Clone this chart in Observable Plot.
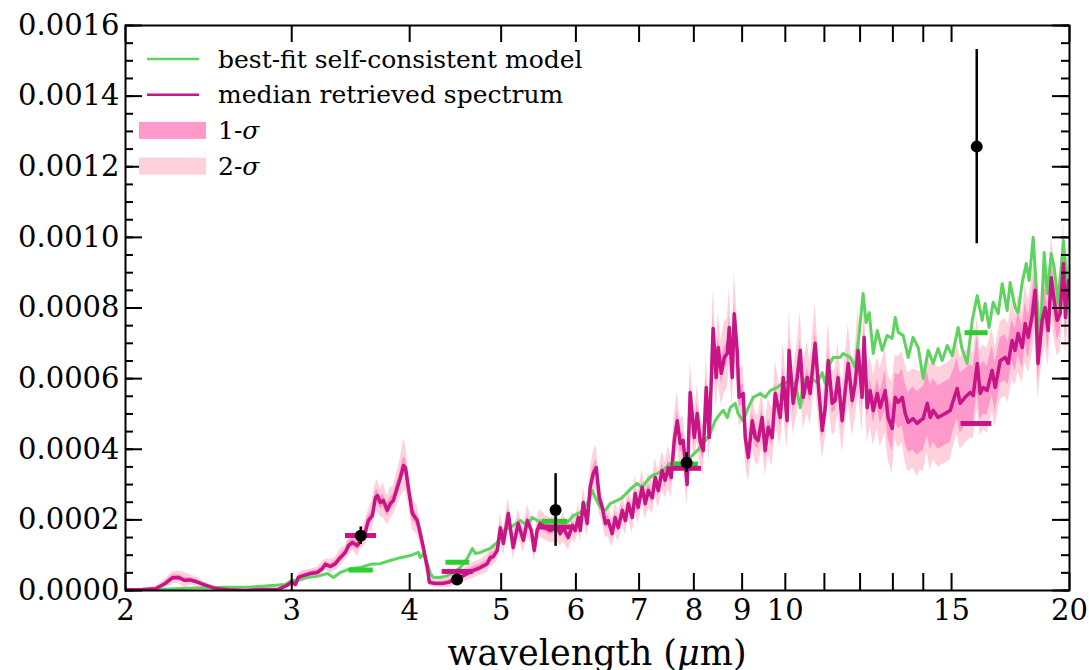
<!DOCTYPE html>
<html><head><meta charset="utf-8">
<script src="https://cdn.jsdelivr.net/npm/d3@7"></script>
<script src="https://cdn.jsdelivr.net/npm/@observablehq/plot@0.6"></script>
<style>body{margin:0;background:#fff}#chart{width:1089px;height:670px}</style>
</head><body><div id="chart"></div>
<script>
// values in units of 1e-4
const SCALE = 1e-4;
// median retrieved spectrum: [wavelength (um), value, 1-sigma half width, 2-sigma half width]
const medianSpectrum = [
[2.000,0.02,0.02,0.04],[2.074,0.02,0.02,0.04],[2.152,0.05,0.03,0.06],[2.204,0.20,0.06,0.12],[2.242,0.36,0.08,0.16],
[2.276,0.37,0.08,0.18],[2.309,0.29,0.07,0.22],[2.342,0.30,0.07,0.15],[2.383,0.24,0.06,0.12],[2.430,0.15,0.04,0.08],
[2.490,0.06,0.03,0.05],[2.571,0.02,0.02,0.04],[2.680,0.00,0.02,0.03],[2.792,0.03,0.02,0.03],[2.904,0.03,0.02,0.04],
[2.969,0.15,0.04,0.07],[3.000,0.24,0.05,0.08],[3.027,0.17,0.05,0.09],[3.049,0.37,0.06,0.12],[3.086,0.42,0.06,0.15],
[3.139,0.48,0.07,0.12],[3.193,0.51,0.07,0.15],[3.233,0.62,0.08,0.18],[3.257,0.74,0.08,0.15],[3.297,0.68,0.08,0.20],
[3.337,0.76,0.09,0.18],[3.377,0.93,0.10,0.25],[3.420,1.08,0.10,0.20],[3.445,1.27,0.12,0.30],[3.479,1.36,0.12,0.22],
[3.521,1.27,0.12,0.30],[3.547,1.42,0.12,0.25],[3.589,1.64,0.14,0.35],[3.616,1.98,0.15,0.30],[3.652,2.12,0.16,0.45],
[3.679,2.63,0.18,0.40],[3.697,2.69,0.18,0.45],[3.724,2.49,0.18,0.40],[3.751,2.55,0.18,0.50],[3.787,2.27,0.18,0.40],
[3.815,2.46,0.18,0.45],[3.844,2.55,0.18,0.40],[3.882,2.92,0.20,0.50],[3.911,3.20,0.22,0.55],[3.940,3.54,0.25,0.75],
[3.959,3.48,0.25,0.65],[3.987,2.92,0.22,0.50],[4.026,2.18,0.20,0.45],[4.075,1.98,0.18,0.40],[4.105,1.61,0.15,0.35],
[4.136,1.22,0.12,0.30],[4.176,0.65,0.10,0.22],[4.197,0.23,0.06,0.12],[4.257,0.20,0.05,0.10],[4.332,0.20,0.06,0.12],
[4.396,0.23,0.07,0.15],[4.461,0.31,0.08,0.18],[4.526,0.37,0.08,0.18],[4.603,0.48,0.09,0.20],[4.672,0.57,0.10,0.22],
[4.752,0.65,0.10,0.22],[4.833,0.76,0.11,0.25],[4.868,0.93,0.12,0.25],[4.905,0.96,0.12,0.25],[4.953,1.13,0.12,0.30],
[4.990,1.78,0.14,0.40],[5.027,1.33,0.12,0.35],[5.088,2.18,0.15,0.45],[5.149,1.22,0.12,0.35],[5.213,1.90,0.14,0.40],
[5.278,1.42,0.12,0.35],[5.330,1.98,0.14,0.45],[5.382,1.70,0.12,0.35],[5.421,1.13,0.12,0.30],[5.458,1.70,0.12,0.35],
[5.499,1.90,0.13,0.40],[5.568,1.78,0.13,0.35],[5.637,1.70,0.12,0.35],[5.733,1.78,0.13,0.40],[5.775,1.61,0.12,0.35],
[5.816,1.78,0.13,0.40],[5.890,1.50,0.12,0.35],[5.948,1.84,0.13,0.40],[5.992,1.70,0.12,0.35],[6.036,2.07,0.14,0.40],
[6.065,1.70,0.12,0.35],[6.109,2.49,0.15,0.45],[6.168,1.90,0.14,0.40],[6.212,2.92,0.18,0.50],[6.259,3.31,0.20,0.60],
[6.306,3.48,0.22,0.65],[6.352,2.63,0.18,0.45],[6.399,2.35,0.16,0.40],[6.446,1.90,0.15,0.40],[6.492,1.98,0.15,0.45],
[6.555,1.61,0.14,0.40],[6.604,2.07,0.15,0.45],[6.653,1.78,0.14,0.40],[6.719,2.27,0.16,0.45],[6.769,1.98,0.15,0.40],
[6.819,2.46,0.16,0.45],[6.885,2.07,0.15,0.45],[6.934,2.75,0.17,0.50],[6.983,2.35,0.16,0.45],[7.053,2.92,0.18,0.50],
[7.106,2.46,0.16,0.45],[7.159,2.83,0.18,0.50],[7.229,2.63,0.17,0.45],[7.282,3.20,0.20,0.55],[7.335,2.83,0.18,0.50],
[7.405,3.40,0.20,0.55],[7.459,3.12,0.20,0.50],[7.515,3.48,0.22,0.60],[7.571,3.20,0.20,0.55],[7.627,4.25,0.25,0.70],
[7.683,4.81,0.28,0.80],[7.739,4.16,0.25,0.70],[7.795,4.25,0.25,0.70],[7.870,3.00,0.22,0.60],[7.929,5.61,0.30,0.90],
[8.008,4.33,0.26,0.70],[8.067,5.01,0.28,0.80],[8.127,4.20,0.26,0.70],[8.187,3.96,0.25,0.70],[8.246,5.75,0.30,0.90],
[8.306,4.33,0.26,0.70],[8.385,7.42,0.35,1.10],[8.448,6.03,0.30,0.90],[8.490,6.88,0.32,1.00],[8.554,6.15,0.30,0.90],
[8.617,6.60,0.32,1.00],[8.680,6.71,0.32,1.00],[8.722,7.45,0.35,1.10],[8.786,6.03,0.30,0.90],[8.828,7.84,0.36,1.20],
[8.891,6.80,0.32,1.00],[8.934,5.47,0.28,0.80],[9.024,5.58,0.28,0.80],[9.069,4.33,0.25,0.70],[9.136,3.77,0.24,0.70],
[9.226,4.81,0.26,0.80],[9.293,4.33,0.25,0.70],[9.360,4.25,0.25,0.70],[9.450,4.90,0.27,0.80],[9.520,3.96,0.25,0.70],
[9.591,4.62,0.26,0.80],[9.686,4.33,0.25,0.80],[9.758,5.58,0.28,0.90],[9.877,4.90,0.27,0.80],[9.949,6.03,0.30,1.00],
[10.044,4.81,0.27,0.80],[10.092,6.80,0.32,1.10],[10.194,5.30,0.28,0.90],[10.295,6.03,0.30,1.00],[10.371,6.80,0.32,1.10],
[10.447,5.47,0.28,0.90],[10.548,6.03,0.30,1.00],[10.624,5.58,0.28,0.90],[10.754,7.00,0.33,1.10],[10.835,5.86,0.30,1.00],
[10.942,4.53,0.26,0.80],[11.023,5.18,0.28,0.90],[11.104,6.51,0.32,1.10],[11.211,5.30,0.28,0.90],[11.292,5.38,0.28,0.90],
[11.373,6.03,0.30,1.00],[11.487,4.81,0.27,0.90],[11.573,5.66,0.30,1.00],[11.659,6.43,0.32,1.10],[11.773,5.38,0.30,1.00],
[11.859,5.86,0.32,1.00],[11.945,6.80,0.35,1.20],[12.059,5.47,0.32,1.00],[12.119,7.17,0.36,1.20],[12.210,5.18,0.32,1.00],
[12.301,5.66,0.35,1.00],[12.392,5.10,0.35,1.00],[12.514,5.58,0.40,1.00],[12.605,5.18,0.45,1.10],[12.757,5.66,0.55,1.20],
[12.848,4.90,0.60,1.20],[12.977,4.59,0.65,1.30],[13.074,5.47,0.70,1.20],[13.171,5.33,0.75,1.30],[13.301,5.47,0.80,1.30],
[13.398,5.01,0.85,1.40],[13.495,4.76,0.85,1.40],[13.656,4.87,0.90,1.40],[13.793,4.73,0.90,1.50],[13.896,4.81,0.90,1.40],
[13.999,4.87,0.90,1.50],[14.137,5.30,0.90,1.40],[14.240,4.90,0.90,1.50],[14.343,5.10,0.90,1.40],[14.514,4.90,0.90,1.40],
[14.769,5.01,0.90,1.40],[14.952,5.10,0.90,1.40],[15.062,5.38,0.85,1.30],[15.208,5.72,0.85,1.30],[15.317,5.30,0.85,1.30],
[15.504,5.47,0.80,1.30],[15.698,5.61,0.80,1.30],[15.814,5.52,0.80,1.20],[15.970,6.43,0.80,1.30],[16.086,5.58,0.75,1.20],
[16.203,5.75,0.75,1.20],[16.358,5.66,0.70,1.20],[16.561,6.23,0.70,1.20],[16.685,5.75,0.70,1.10],[16.891,6.51,0.65,1.10],
[17.097,6.60,0.65,1.10],[17.221,6.43,0.60,1.10],[17.386,7.08,0.60,1.10],[17.515,6.80,0.60,1.00],[17.646,7.28,0.60,1.10],
[17.821,6.88,0.60,1.00],[17.953,7.56,0.60,1.10],[18.085,7.17,0.60,1.00],[18.260,7.79,0.60,1.10],[18.391,8.50,0.60,1.20],
[18.522,6.43,0.55,1.00],[18.708,7.65,0.55,1.10],[18.848,8.01,0.55,1.10],[18.988,7.36,0.55,1.00],[19.128,8.86,0.55,1.20],
[19.267,8.21,0.55,1.10],[19.407,7.65,0.55,1.00],[19.547,7.84,0.55,1.10],[19.707,9.26,0.55,1.20],[19.805,7.73,0.55,1.10],
[19.951,8.78,0.55,1.10]
];
// best-fit self-consistent model: [wavelength (um), value]
const fitSpectrum = [
[2.000,0.02],[2.126,0.03],[2.259,0.05],[2.401,0.08],[2.552,0.09],[2.713,0.10],[2.792,0.12],[2.883,0.15],[2.953,0.17],[3.000,0.28],
[3.042,0.28],[3.086,0.33],[3.116,0.37],[3.193,0.40],[3.273,0.48],[3.321,0.37],[3.377,0.51],[3.462,0.62],[3.547,0.65],[3.634,0.74],
[3.724,0.76],[3.815,0.85],[3.911,0.93],[4.007,0.99],[4.085,1.08],[4.105,0.93],[4.136,1.05],[4.176,0.76],[4.207,0.48],[4.237,0.37],
[4.310,0.37],[4.386,0.42],[4.450,0.51],[4.526,0.65],[4.603,0.91],[4.661,1.19],[4.695,1.05],[4.752,1.08],[4.868,1.19],[4.953,1.36],
[5.027,1.70],[5.112,1.78],[5.239,1.98],[5.330,1.84],[5.395,2.07],[5.499,1.93],[5.610,1.98],[5.733,1.93],[5.875,1.93],[5.963,2.12],
[6.065,2.21],[6.168,2.46],[6.244,2.83],[6.290,2.63],[6.368,2.35],[6.446,2.27],[6.524,2.46],[6.637,2.55],[6.719,2.63],[6.802,2.78],
[6.885,2.92],[6.966,3.03],[7.053,2.92],[7.141,3.12],[7.229,3.26],[7.317,3.31],[7.422,3.40],[7.553,3.60],[7.683,3.62],[7.795,3.54],
[7.929,3.77],[8.067,3.96],[8.187,4.16],[8.325,4.45],[8.427,4.81],[8.533,5.01],[8.596,5.10],[8.680,4.90],[8.743,5.18],[8.849,5.30],
[8.912,5.01],[9.024,4.81],[9.136,5.18],[9.248,5.47],[9.405,5.58],[9.520,5.47],[9.639,5.66],[9.806,5.75],[9.949,5.89],[10.118,5.89],
[10.244,5.86],[10.371,5.18],[10.447,5.95],[10.624,6.03],[10.808,5.89],[10.942,6.17],[11.023,5.86],[11.104,6.32],[11.238,6.60],[11.430,6.60],
[11.516,6.71],[11.716,6.60],[11.859,6.32],[11.974,7.28],[12.088,8.41],[12.179,7.59],[12.271,7.87],[12.392,6.71],[12.514,7.36],[12.666,6.80],
[12.818,7.22],[12.977,7.14],[13.074,7.73],[13.171,7.31],[13.333,7.22],[13.495,6.60],[13.656,7.17],[13.828,6.88],[13.999,6.00],[14.171,6.80],
[14.343,6.43],[14.514,6.85],[14.660,6.51],[14.842,6.94],[15.025,6.65],[15.244,7.45],[15.387,6.85],[15.581,6.43],[15.776,7.65],[15.970,8.35],
[16.164,7.65],[16.280,8.13],[16.437,7.45],[16.602,8.16],[16.809,7.84],[16.973,8.69],[17.180,7.93],[17.303,8.72],[17.515,8.01],[17.646,7.87],
[17.821,8.72],[17.997,9.26],[18.128,8.78],[18.304,10.00],[18.475,8.30],[18.615,6.88],[18.801,9.57],[18.941,8.41],[19.128,9.54],[19.267,9.15],
[19.454,8.13],[19.707,9.91],[19.902,8.58]
];
// observed eclipse depths
const obsWave = [3.55, 4.49, 5.71, 7.86, 15.95];
const obsValue = [1.55, 0.31, 2.28, 3.62, 12.57];
const obsError = [0.25, 0.15, 1.03, 0.28, 2.75];
// band-integrated models
const medBandLo = [3.42, 4.33, 5.49, 7.56, 15.35];
const medBandHi = [3.69, 4.67, 5.93, 8.15, 16.55];
const medBandValue = [1.56, 0.54, 1.80, 3.46, 4.73];
const fitBandLo = [3.45, 4.37, 5.53, 7.61, 15.50];
const fitBandHi = [3.66, 4.63, 5.88, 8.09, 16.40];
const fitBandValue = [0.58, 0.80, 1.96, 3.58, 7.30];
// ticks
const xTickValues = [2,3,4,5,6,7,8,9,10,11,12,13,14,15,20];
const xTickLabels = [2,3,4,5,6,7,8,9,10,15,20];
const yMajorTicks = [0,0.0002,0.0004,0.0006,0.0008,0.0010,0.0012,0.0014,0.0016];
const yMinorTicks = d3.range(0, 33).map(i => i * 0.00005);

const med = medianSpectrum.map(([w, v, s1, s2]) => ({w, v: v*SCALE, lo1: (v-s1)*SCALE, hi1: (v+s1)*SCALE, lo2: (v-s2)*SCALE, hi2: (v+s2)*SCALE}));
const fit = fitSpectrum.map(([w, v]) => ({w, v: v*SCALE}));
const obs = obsWave.map((w, i) => ({w, v: obsValue[i]*SCALE, lo: (obsValue[i]-obsError[i])*SCALE, hi: (obsValue[i]+obsError[i])*SCALE}));
const medBars = medBandLo.map((lo, i) => ({lo, hi: medBandHi[i], v: medBandValue[i]*SCALE}));
const fitBars = fitBandLo.map((lo, i) => ({lo, hi: fitBandHi[i], v: fitBandValue[i]*SCALE}));

const GREEN = "#5fd35f", GREEN_BAR = "#2ecc2e", MAGENTA = "#c71585", SIG1 = "#ff99cc", SIG2 = "#ffd1dc";
const W = 1089, H = 670, ML = 125, MR = 20, MT = 25, MB = 80;
const IW = W - ML - MR, IH = H - MT - MB;
const MAJOR = 17, MINOR = 8;
const tickStyle = {stroke: "#000", strokeWidth: 2};

const chart = Plot.plot({
  width: W, height: H,
  marginTop: MT, marginRight: MR, marginBottom: MB, marginLeft: ML,
  x: {type: "log", domain: [2, 20]},
  y: {domain: [0, 0.0016]},
  style: {fontFamily: "'DejaVu Serif', serif", fontSize: "29px", color: "#000", background: "#fff"},
  marks: [
    Plot.areaY(med, {x: "w", y1: "lo2", y2: "hi2", fill: SIG2, clip: true}),
    Plot.areaY(med, {x: "w", y1: "lo1", y2: "hi1", fill: SIG1, clip: true}),
    Plot.line(fit, {x: "w", y: "v", stroke: GREEN, strokeWidth: 3, clip: true}),
    Plot.line(med, {x: "w", y: "v", stroke: MAGENTA, strokeWidth: 3.5, clip: true}),
    Plot.ruleY(fitBars, {x1: "lo", x2: "hi", y: "v", stroke: GREEN_BAR, strokeWidth: 5}),
    Plot.ruleY(medBars, {x1: "lo", x2: "hi", y: "v", stroke: MAGENTA, strokeWidth: 5}),
    Plot.ruleX(obs, {x: "w", y1: "lo", y2: "hi", stroke: "#000", strokeWidth: 2.5}),
    Plot.dot(obs, {x: "w", y: "v", r: 6, fill: "#000"}),
    // inward ticks on all four sides
    Plot.tickX(xTickValues, {x: d => d, insetTop: IH - MAJOR, ...tickStyle}),
    Plot.tickX(xTickValues, {x: d => d, insetBottom: IH - MAJOR, ...tickStyle}),
    Plot.tickY(yMinorTicks, {y: d => d, insetRight: IW - MINOR, ...tickStyle}),
    Plot.tickY(yMinorTicks, {y: d => d, insetLeft: IW - MINOR, ...tickStyle}),
    Plot.tickY(yMajorTicks, {y: d => d, insetRight: IW - MAJOR, ...tickStyle}),
    Plot.tickY(yMajorTicks, {y: d => d, insetLeft: IW - MAJOR, ...tickStyle}),
    Plot.frame({stroke: "#000", strokeWidth: 2}),
    // tick labels
    Plot.axisX(xTickLabels, {anchor: "bottom", tickSize: 0, tickPadding: 9, tickFormat: d => String(d), label: null}),
    Plot.axisY(yMajorTicks, {anchor: "left", tickSize: 0, tickPadding: 6, tickFormat: d3.format(".4f"), label: null})
  ]
});
document.getElementById("chart").append(chart);

const svg = d3.select(chart);
// x-axis title
const xt = svg.append("text").attr("x", ML + IW / 2).attr("y", 665).attr("text-anchor", "middle")
  .attr("font-family", "'DejaVu Serif', serif").attr("font-size", 35).attr("fill", "#000");
xt.append("tspan").text("wavelength (");
xt.append("tspan").attr("font-style", "italic").text("μ");
xt.append("tspan").text("m)");

// legend
const legendItems = [
  {kind: "line", color: GREEN, label: "best-fit self-consistent model"},
  {kind: "line", color: MAGENTA, label: "median retrieved spectrum"},
  {kind: "box", color: SIG1, label: "1-", sym: "σ"},
  {kind: "box", color: SIG2, label: "2-", sym: "σ"}
];
const lg = svg.append("g").attr("font-family", "'DejaVu Serif', serif").attr("font-size", 25).attr("text-anchor", "start");
legendItems.forEach((it, i) => {
  const cy = 59 + i * 35.7;
  if (it.kind === "line") {
    lg.append("line").attr("x1", 147).attr("x2", 199).attr("y1", cy).attr("y2", cy).attr("stroke", it.color).attr("stroke-width", 2.5);
  } else {
    lg.append("rect").attr("x", 139).attr("y", cy - 8.5).attr("width", 67).attr("height", 17).attr("fill", it.color);
  }
  const t = lg.append("text").attr("x", 218).attr("y", cy).attr("dy", "0.35em").attr("fill", "#000").attr("text-anchor", "start");
  t.append("tspan").text(it.label);
  if (it.sym) t.append("tspan").attr("font-style", "italic").text(it.sym);
});
</script></body></html>
